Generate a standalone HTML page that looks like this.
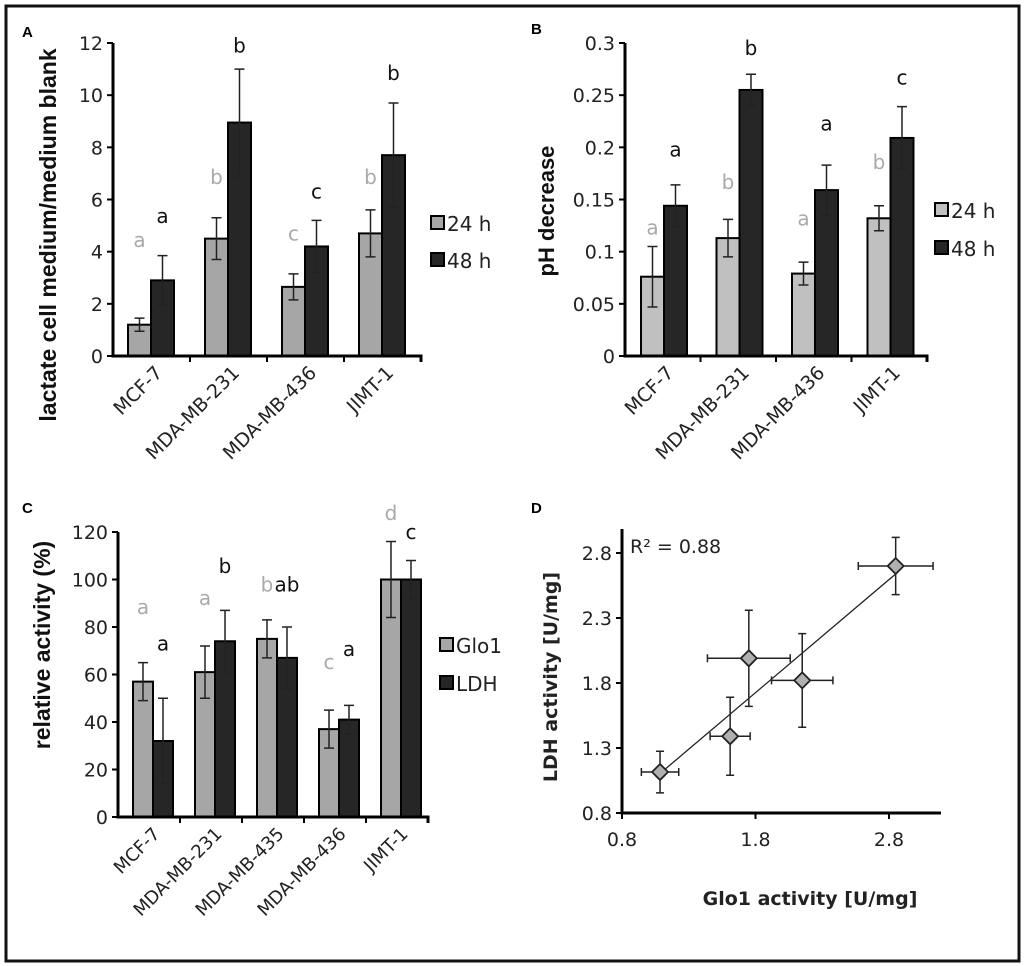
<!DOCTYPE html>
<html><head><meta charset="utf-8"><style>
body{margin:0;background:#fff}
svg{display:block;font-family:"DejaVu Sans","Liberation Sans",sans-serif}
</style></head><body>
<svg id="fig" width="1024" height="966" viewBox="0 0 1024 966" xmlns="http://www.w3.org/2000/svg">
<rect x="6" y="6" width="1013" height="955" fill="#fff" stroke="#111" stroke-width="3"/>
<g id="gA"></g>
<g id="gB"></g>
<g id="gC"></g>
<g id="gD"></g>
</svg>
<script>
// Panel A data
const catsA = ["MCF-7","MDA-MB-231","MDA-MB-436","JIMT-1"];
const a24 = [1.2,4.5,2.65,4.7];
const a24err = [0.25,0.8,0.5,0.9];
const a48 = [2.9,8.95,4.2,7.7];
const a48err = [0.95,2.05,1.0,2.0];
const a24let = ["a","b","c","b"];
const a48let = ["a","b","c","b"];
const a24letY = [4.45,6.86,4.7,6.86];
const a48letY = [5.37,11.9,6.3,10.85];
const ticksA = [0,2,4,6,8,10,12];
// Panel B data
const catsB = ["MCF-7","MDA-MB-231","MDA-MB-436","JIMT-1"];
const b24 = [0.076,0.113,0.079,0.132];
const b24err = [0.029,0.018,0.011,0.012];
const b48 = [0.144,0.255,0.159,0.209];
const b48err = [0.02,0.015,0.024,0.03];
const b24let = ["a","b","a","b"];
const b48let = ["a","b","a","c"];
const b24letY = [0.123,0.167,0.132,0.186];
const b48letY = [0.198,0.295,0.223,0.267];
const ticksB = [0,0.05,0.1,0.15,0.2,0.25,0.3];
const tickLabelsB = ["0","0.05","0.1","0.15","0.2","0.25","0.3"];
// Panel C data
const catsC = ["MCF-7","MDA-MB-231","MDA-MB-435","MDA-MB-436","JIMT-1"];
const cGlo = [57,61,75,37,100];
const cGloErr = [8,11,8,8,16];
const cLdh = [32,74,67,41,100];
const cLdhErr = [18,13,13,6,8];
const cGloLet = ["a","a","b","c","d"];
const cLdhLet = ["a","b","ab","a","c"];
const cGloLetY = [88.4,92.2,98,65.3,128];
const cLdhLetY = [73,105.7,98,70.7,120];
const ticksC = [0,20,40,60,80,100,120];
// Panel D data
const dGlo = [1.085,1.61,1.75,2.15,2.85];
const dGloErr = [0.14,0.15,0.31,0.23,0.28];
const dLdh = [1.115,1.39,1.99,1.82,2.70];
const dLdhErr = [0.16,0.3,0.37,0.36,0.22];
const ticksDx = [0.8,1.8,2.8];
const ticksDy = [0.8,1.3,1.8,2.3,2.8];

const NS="http://www.w3.org/2000/svg";
function mk(parent,tag,attrs,text){const e=document.createElementNS(NS,tag);for(const k in attrs)e.setAttribute(k,attrs[k]);if(text!==undefined)e.textContent=text;parent.appendChild(e);return e;}

function barPanel(g,o){
  const y=v=>o.y0-(v-o.vmin)/(o.vmax-o.vmin)*(o.y0-o.y1);
  const cw=(o.x1-o.x0)/o.cats.length;
  o.ticks.forEach((t,i)=>{
    const tl=mk(g,'line',{x1:o.x0-6,x2:o.x0,y1:y(t),y2:y(t),stroke:'#000','stroke-width':2});
    
    
    const tx=mk(g,'text',{x:o.x0-10,y:y(t)+7,'text-anchor':'end','font-size':19,fill:'#222'},o.tickLabels?o.tickLabels[i]:String(t));
    
    
  });
  o.cats.forEach((c,i)=>{
    const cx=o.x0+cw*i;
    const tk=mk(g,'line',{x1:cx+cw,x2:cx+cw,y1:o.y0,y2:o.y0+6,stroke:'#000','stroke-width':2});
    
    
    const lx=cx+cw/2+12, ly=o.y0+18;
    const lb=mk(g,'text',{x:lx,y:ly,'text-anchor':'end','font-size':o.catFont,fill:'#222',transform:`rotate(-45 ${lx} ${ly})`},c);
    
    
    [[o.s1,o.e1,o.c1,o.l1,o.ly1,o.lc1],[o.s2,o.e2,o.c2,o.l2,o.ly2,'#111']].forEach((s,k)=>{
      const bx=cx+o.off+k*o.bw;
      const r=mk(g,'rect',{x:bx,y:y(s[0][i]),width:o.bw,height:o.y0-y(s[0][i]),fill:s[2],stroke:'#000','stroke-width':2});
      
      
      const mx=bx+o.bw/2;
      const eb=mk(g,'path',{d:`M${mx} ${y(s[0][i]-s[1][i])}V${y(s[0][i]+s[1][i])}M${mx-5} ${y(s[0][i]-s[1][i])}H${mx+5}M${mx-5} ${y(s[0][i]+s[1][i])}H${mx+5}`,stroke:'#222','stroke-width':1.5,fill:'none'});
      
      
      const lt=mk(g,'text',{x:mx,y:y(s[4][i])+7,'text-anchor':'middle','font-size':20,fill:s[5]},s[3][i]);
      
      
    });
  });
  const ax=mk(g,'path',{d:`M${o.x0} ${o.y1}V${o.y0}H${o.x1}V${o.y0+6}`,stroke:'#000','stroke-width':3,fill:'none'});
  
  
  o.legend.forEach((L,k)=>{
    const ly=o.legY+k*o.legGap;
    const sq=mk(g,'rect',{x:o.legX,y:ly-7,width:13,height:13,fill:L[1],stroke:'#000','stroke-width':2});
    
    
    const t=mk(g,'text',{x:o.legX+16,y:ly+8,'font-size':20,fill:'#222'},L[0]);
    
    
  });
  const yt=mk(g,'text',{x:o.ytX,y:o.ytY,'text-anchor':'middle','font-size':o.ytFont,'font-weight':'bold','font-family':'Liberation Sans, sans-serif',fill:'#111',transform:`rotate(-90 ${o.ytX} ${o.ytY})`},o.ytitle);
  
  
  const pl=mk(g,'text',{x:o.plX,y:o.plY,'font-size':15,'font-weight':'bold','font-family':'Liberation Sans, sans-serif'},o.pl);
  
  
}

barPanel(document.getElementById('gA'),{cats:catsA,vmin:0,vmax:12,x0:113,x1:421,y0:356,y1:43,off:15,bw:23,
  s1:a24,e1:a24err,s2:a48,e2:a48err,c1:'#a6a6a6',c2:'#262626',l1:a24let,l2:a48let,ly1:a24letY,ly2:a48letY,lc1:'#aaa',
  ticks:ticksA,legend:[['24 h','#a6a6a6'],['48 h','#262626']],legX:431,legY:223,legGap:37,catFont:19,
  ytitle:'lactate cell medium/medium blank',ytFont:23,ytX:56,ytY:235,pl:'A',plX:22,plY:37});
barPanel(document.getElementById('gB'),{cats:catsB,vmin:0,vmax:0.3,x0:625,x1:927,y0:356,y1:43,off:16,bw:23,
  s1:b24,e1:b24err,s2:b48,e2:b48err,c1:'#c0c0c0',c2:'#262626',l1:b24let,l2:b48let,ly1:b24letY,ly2:b48letY,lc1:'#aaa',
  ticks:ticksB,tickLabels:tickLabelsB,legend:[['24 h','#c0c0c0'],['48 h','#262626']],legX:935,legY:210,legGap:38,catFont:19,
  ytitle:'pH decrease',ytFont:22,ytX:554,ytY:211,pl:'B',plX:531,plY:34});
barPanel(document.getElementById('gC'),{cats:catsC,vmin:0,vmax:120,x0:118,x1:428,y0:817,y1:532,off:15,bw:20,
  s1:cGlo,e1:cGloErr,s2:cLdh,e2:cLdhErr,c1:'#a6a6a6',c2:'#262626',l1:cGloLet,l2:cLdhLet,ly1:cGloLetY,ly2:cLdhLetY,lc1:'#aaa',
  ticks:ticksC,legend:[['Glo1','#a6a6a6'],['LDH','#262626']],legX:440,legY:645,legGap:38,catFont:18,
  ytitle:'relative activity (%)',ytFont:23,ytX:50,ytY:645,pl:'C',plX:22,plY:513});

// Panel D scatter
(function(){
  const g=document.getElementById('gD');
  const X=v=>622+(v-0.8)*133.5, Y=v=>813-(v-0.8)*130;
  ticksDy.forEach(t=>{
    const l=mk(g,'line',{x1:616,x2:622,y1:Y(t),y2:Y(t),stroke:'#000','stroke-width':2});
    
    
    const tx=mk(g,'text',{x:612,y:Y(t)+7,'text-anchor':'end','font-size':19,fill:'#222'},t.toFixed(1));
    
    
  });
  ticksDx.forEach(t=>{
    const l=mk(g,'line',{x1:X(t),x2:X(t),y1:813,y2:819,stroke:'#000','stroke-width':2});
    
    
    const tx=mk(g,'text',{x:X(t),y:846,'text-anchor':'middle','font-size':19,fill:'#222'},t.toFixed(1));
    
    
  });
  const n=dGlo.length,mx=dGlo.reduce((a,b)=>a+b)/n,my=dLdh.reduce((a,b)=>a+b)/n;
  let sxy=0,sxx=0;for(let i=0;i<n;i++){sxy+=(dGlo[i]-mx)*(dLdh[i]-my);sxx+=(dGlo[i]-mx)**2;}
  const sl=sxy/sxx,ic=my-sl*mx;
  const xa=Math.min(...dGlo),xb=Math.max(...dGlo);
  const tl=mk(g,'line',{x1:X(xa),y1:Y(ic+sl*xa),x2:X(xb),y2:Y(ic+sl*xb),stroke:'#222','stroke-width':1.3});
  
  
  for(let i=0;i<n;i++){
    const px=X(dGlo[i]),py=Y(dLdh[i]);
    const x1=X(dGlo[i]-dGloErr[i]),x2=X(dGlo[i]+dGloErr[i]),y1=Y(dLdh[i]-dLdhErr[i]),y2=Y(dLdh[i]+dLdhErr[i]);
    const e=mk(g,'path',{d:`M${x1} ${py}H${x2}M${x1} ${py-4}V${py+4}M${x2} ${py-4}V${py+4}M${px} ${y1}V${y2}M${px-4} ${y1}H${px+4}M${px-4} ${y2}H${px+4}`,stroke:'#222','stroke-width':1.5,fill:'none'});
    
    
    const d=mk(g,'path',{d:`M${px} ${py-8}L${px+8} ${py}L${px} ${py+8}L${px-8} ${py}Z`,fill:'#b0b0b0',stroke:'#222','stroke-width':1.8});
    
    
  }
  const ax=mk(g,'path',{d:`M622 529V813H941`,stroke:'#000','stroke-width':3,fill:'none'});
  
  
  const r=mk(g,'text',{x:630,y:553,'font-size':19,fill:'#222'},'R² = 0.88');
  
  
  const xt=mk(g,'text',{x:810,y:905,'text-anchor':'middle','font-size':19,'font-weight':'bold',fill:'#222'},'Glo1 activity [U/mg]');
  
  
  const yt=mk(g,'text',{x:557,y:677,'text-anchor':'middle','font-size':19,'font-weight':'bold',fill:'#222',transform:'rotate(-90 557 677)'},'LDH activity [U/mg]');
  
  
  const pl=mk(g,'text',{x:531,y:513,'font-size':15,'font-weight':'bold','font-family':'Liberation Sans, sans-serif'},'D');
  
  
})();
</script>
</body></html>
